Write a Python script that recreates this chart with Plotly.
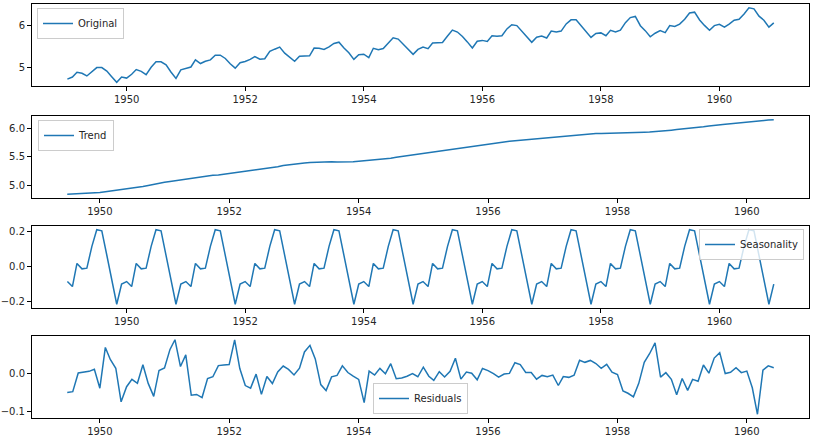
import pandas as pd
import plotly.graph_objects as go

# ---------------- data ----------------
months_all = pd.date_range("1949-01-01", periods=144, freq="MS")
months_mid = pd.date_range("1949-07-01", periods=132, freq="MS")

original = [
    4.7185, 4.7707, 4.8828, 4.8598, 4.7958, 4.9053, 4.9972, 4.9972, 4.9127, 4.7791, 4.6444, 4.7707,
    4.7449, 4.8363, 4.9488, 4.9053, 4.8283, 5.0039, 5.1358, 5.1358, 5.0626, 4.8903, 4.7362, 4.9416,
    4.9767, 5.0106, 5.1818, 5.0938, 5.1475, 5.1818, 5.2933, 5.2933, 5.2149, 5.0876, 4.9836, 5.1120,
    5.1417, 5.1930, 5.2627, 5.1985, 5.2095, 5.3845, 5.4381, 5.4889, 5.3423, 5.2523, 5.1475, 5.2679,
    5.2781, 5.2781, 5.4638, 5.4596, 5.4337, 5.4931, 5.5759, 5.6058, 5.4681, 5.3519, 5.1930, 5.3033,
    5.3181, 5.2364, 5.4596, 5.4250, 5.4553, 5.5759, 5.7104, 5.6802, 5.5568, 5.4337, 5.3132, 5.4337,
    5.4889, 5.4510, 5.5872, 5.5947, 5.5984, 5.7526, 5.8972, 5.8493, 5.7430, 5.6131, 5.4681, 5.6276,
    5.6490, 5.6240, 5.7589, 5.7462, 5.7621, 5.9243, 6.0234, 6.0039, 5.8721, 5.7236, 5.6021, 5.7236,
    5.7526, 5.7071, 5.8749, 5.8522, 5.8721, 6.0450, 6.1420, 6.1463, 6.0014, 5.8493, 5.7203, 5.8171,
    5.8289, 5.7621, 5.8916, 5.8522, 5.8944, 6.0753, 6.1964, 6.2246, 6.0014, 5.8833, 5.7366, 5.8201,
    5.8861, 5.8348, 6.0064, 5.9814, 6.0403, 6.1570, 6.3063, 6.3261, 6.1377, 6.0088, 5.8916, 6.0039,
    6.0331, 5.9687, 6.0379, 6.1334, 6.1570, 6.2823, 6.4330, 6.4069, 6.2305, 6.1334, 5.9661, 6.0684,
]

trend = [
    4.8373, 4.8411, 4.8466, 4.8512, 4.8545, 4.8600,
    4.8698, 4.8814, 4.8934, 4.9043, 4.9128, 4.9237, 4.9405, 4.9574, 4.9744, 4.9919, 5.0131, 5.0338,
    5.0478, 5.0609, 5.0738, 5.0884, 5.1069, 5.1243, 5.1383, 5.1528, 5.1637, 5.1715, 5.1784, 5.1894,
    5.2039, 5.2181, 5.2316, 5.2437, 5.2574, 5.2707, 5.2829, 5.2922, 5.3041, 5.3233, 5.3436, 5.3574,
    5.3677, 5.3783, 5.3884, 5.3978, 5.4039, 5.4072, 5.4104, 5.4103, 5.4084, 5.4068, 5.4062, 5.4106,
    5.4196, 5.4283, 5.4351, 5.4422, 5.4507, 5.4611, 5.4736, 5.4897, 5.5040, 5.5163, 5.5294, 5.5427,
    5.5579, 5.5727, 5.5875, 5.6027, 5.6166, 5.6312, 5.6459, 5.6598, 5.6742, 5.6876, 5.7008, 5.7147,
    5.7272, 5.7389, 5.7507, 5.7607, 5.7709, 5.7804, 5.7888, 5.7965, 5.8048, 5.8141, 5.8231, 5.8327,
    5.8427, 5.8535, 5.8649, 5.8755, 5.8856, 5.8945, 5.9015, 5.9070, 5.9100, 5.9107, 5.9116, 5.9138,
    5.9173, 5.9229, 5.9261, 5.9276, 5.9296, 5.9305, 5.9330, 5.9384, 5.9462, 5.9564, 5.9678, 5.9773,
    5.9853, 5.9941, 6.0040, 6.0149, 6.0266, 6.0407, 6.0545, 6.0662, 6.0731, 6.0807, 6.0919, 6.1020,
    6.1125, 6.1212, 6.1284, 6.1375, 6.1457, 6.1515,
]

seasonal = [
    -0.0858, -0.1144, 0.0181, -0.0130, -0.0090, 0.1154, 0.2108, 0.2045, 0.0648, -0.0753, -0.2158, -0.1003,
    -0.0858, -0.1144, 0.0181, -0.0130, -0.0090, 0.1154, 0.2108, 0.2045, 0.0648, -0.0753, -0.2158, -0.1003,
    -0.0858, -0.1144, 0.0181, -0.0130, -0.0090, 0.1154, 0.2108, 0.2045, 0.0648, -0.0753, -0.2158, -0.1003,
    -0.0858, -0.1144, 0.0181, -0.0130, -0.0090, 0.1154, 0.2108, 0.2045, 0.0648, -0.0753, -0.2158, -0.1003,
    -0.0858, -0.1144, 0.0181, -0.0130, -0.0090, 0.1154, 0.2108, 0.2045, 0.0648, -0.0753, -0.2158, -0.1003,
    -0.0858, -0.1144, 0.0181, -0.0130, -0.0090, 0.1154, 0.2108, 0.2045, 0.0648, -0.0753, -0.2158, -0.1003,
    -0.0858, -0.1144, 0.0181, -0.0130, -0.0090, 0.1154, 0.2108, 0.2045, 0.0648, -0.0753, -0.2158, -0.1003,
    -0.0858, -0.1144, 0.0181, -0.0130, -0.0090, 0.1154, 0.2108, 0.2045, 0.0648, -0.0753, -0.2158, -0.1003,
    -0.0858, -0.1144, 0.0181, -0.0130, -0.0090, 0.1154, 0.2108, 0.2045, 0.0648, -0.0753, -0.2158, -0.1003,
    -0.0858, -0.1144, 0.0181, -0.0130, -0.0090, 0.1154, 0.2108, 0.2045, 0.0648, -0.0753, -0.2158, -0.1003,
    -0.0858, -0.1144, 0.0181, -0.0130, -0.0090, 0.1154, 0.2108, 0.2045, 0.0648, -0.0753, -0.2158, -0.1003,
    -0.0858, -0.1144, 0.0181, -0.0130, -0.0090, 0.1154, 0.2108, 0.2045, 0.0648, -0.0753, -0.2158, -0.1003,
]

residuals = [
    -0.0509, -0.0484, 0.0013, 0.0031, 0.0057, 0.0111,
    -0.0391, 0.0693, 0.0373, 0.0140, -0.0755, -0.0352, -0.0155, -0.0261, 0.0234, -0.0264, -0.0610, 0.0081,
    0.0148, 0.0641, 0.0899, 0.0185, 0.0496, -0.0579, -0.0558, -0.0640, -0.0137, -0.0086, 0.0210, 0.0229,
    0.0236, 0.0893, 0.0130, -0.0322, -0.0390, -0.0017, -0.0556, -0.0078, -0.0266, 0.0042, 0.0198, 0.0108,
    -0.0038, 0.0142, 0.0573, 0.0748, 0.0388, -0.0295, -0.0453, -0.0090, -0.0051, 0.0204, 0.0026, -0.0070,
    -0.0157, -0.0775, 0.0064, -0.0042, 0.0136, -0.0006, 0.0260, -0.0140, -0.0120, -0.0074, -0.0003, -0.0087,
    0.0169, -0.0073, -0.0184, 0.0050, -0.0093, 0.0060, 0.0405, -0.0150, 0.0040, 0.0007, -0.0168, 0.0132,
    0.0077, -0.0005, -0.0099, -0.0014, 0.0002, 0.0285, 0.0238, 0.0029, 0.0024, -0.0152, -0.0051, -0.0088,
    -0.0042, -0.0320, -0.0081, -0.0103, -0.0046, 0.0351, 0.0297, 0.0348, 0.0266, 0.0139, 0.0245, 0.0036,
    -0.0026, -0.0464, -0.0527, -0.0623, -0.0263, 0.0295, 0.0526, 0.0817, -0.0096, 0.0022, -0.0154, -0.0569,
    -0.0134, -0.0449, -0.0157, -0.0205, 0.0227, 0.0009, 0.0410, 0.0554, -0.0002, 0.0033, 0.0155, 0.0022,
    0.0064, -0.0381, -0.1086, 0.0090, 0.0202, 0.0154,
]

# ---------------- layout ----------------
W, H = 819, 442
ML, MR, MT, MB = 32, 10, 4, 24
PH = H - MT - MB
panels_px = [(4, 86), (116, 198), (226, 308), (336, 418)]  # top/bottom pixel rows


def dom(top, bottom):
    return [(H - MB - bottom) / PH, (H - MB - top) / PH]


def px_x(px):
    return (px - ML) / (W - ML - MR)


def px_y(py):
    return (H - MB - py) / PH


COLOR = "#1f77b4"
FONT = dict(family="DejaVu Sans", size=10, color="#262626")

fig = go.Figure()
series = [
    (months_all, original, "Original", "legend"),
    (months_mid, trend, "Trend", "legend2"),
    (months_all, seasonal, "Seasonality", "legend3"),
    (months_mid, residuals, "Residuals", "legend4"),
]
for i, (x, y, name, leg) in enumerate(series):
    ax = "" if i == 0 else str(i + 1)
    fig.add_trace(go.Scatter(
        x=x, y=y, name=name, mode="lines",
        line=dict(color=COLOR, width=1.5),
        xaxis="x" + ax, yaxis="y" + ax, legend=leg, showlegend=True,
    ))

full_range = ["1948-05-28", "1961-07-06"]
mid_range = ["1948-12-14", "1960-12-17"]
x_ranges = [full_range, mid_range, full_range, mid_range]
y_ranges = [[4.555, 6.522], [4.772, 6.217], [-0.2372, 0.2321], [-0.1185, 0.0998]]
y_dticks = [1, 0.5, 0.2, 0.1]
y_fmt = ["d", ".1f", ".1f", ".1f"]

axis_common = dict(
    showline=True, linecolor="#000000", linewidth=1, mirror=True,
    ticks="outside", ticklen=4, tickwidth=1, tickcolor="#000000",
    showgrid=False, zeroline=False, tickfont=FONT, automargin=False,
)

layout = dict(
    width=W, height=H,
    margin=dict(l=ML, r=MR, t=MT, b=MB, autoexpand=False),
    paper_bgcolor="white", plot_bgcolor="white",
    font=FONT,
)
for i in range(4):
    ax = "" if i == 0 else str(i + 1)
    top, bottom = panels_px[i]
    layout["xaxis" + ax] = dict(
        axis_common, domain=[0, 1], anchor="y" + ax, type="date",
        range=x_ranges[i], dtick="M24", tick0="1950-01-01", tickformat="%Y",
    )
    layout["yaxis" + ax] = dict(
        axis_common, domain=dom(top, bottom), anchor="x" + ax,
        range=y_ranges[i], dtick=y_dticks[i], tick0=0, tickformat=y_fmt[i],
    )

leg_common = dict(
    bgcolor="rgba(255,255,255,0.8)", bordercolor="#cccccc", borderwidth=1,
    font=FONT, itemwidth=30, tracegroupgap=0,
)
layout["legend"] = dict(leg_common, x=px_x(37), y=px_y(8), xanchor="left", yanchor="top")
layout["legend2"] = dict(leg_common, x=px_x(38), y=px_y(120), xanchor="left", yanchor="top")
layout["legend3"] = dict(leg_common, x=px_x(804), y=px_y(229), xanchor="right", yanchor="top")
layout["legend4"] = dict(leg_common, x=px_x(420.5), y=px_y(414), xanchor="center", yanchor="bottom")

fig.update_layout(**layout)
fig.write_html(
    "out.html",
    config={"displayModeBar": False},
    post_script="document.body.style.margin='0';document.body.style.overflow='hidden';",
)
